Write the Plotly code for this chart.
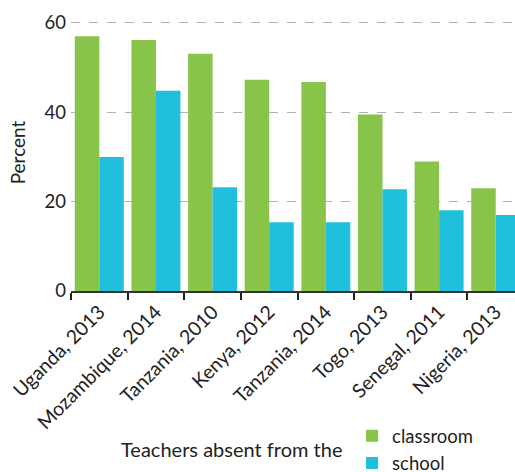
import plotly.graph_objects as go

categories = ["Uganda, 2013", "Mozambique, 2014", "Tanzania, 2010", "Kenya, 2012",
              "Tanzania, 2014", "Togo, 2013", "Senegal, 2011", "Nigeria, 2013"]
classroom = [57, 56.2, 53.1, 47.3, 46.8, 39.5, 29, 23]
school = [30, 44.8, 23.2, 15.4, 15.4, 22.8, 18.1, 17]

FONT = "Lato"
fig = go.Figure()
fig.add_trace(go.Bar(x=categories, y=classroom, name="classroom",
                     marker=dict(color="#89C44A", line=dict(width=0))))
fig.add_trace(go.Bar(x=categories, y=school, name="school",
                     marker=dict(color="#20C0DC", line=dict(width=0))))

fig.update_layout(
    width=515, height=472,
    margin=dict(l=71, r=0, t=14, b=181, autoexpand=False),
    paper_bgcolor="white", plot_bgcolor="white",
    barmode="group", bargap=0.135, bargroupgap=0,
    font=dict(family=FONT, size=19.5, color="#222"),
    showlegend=True,
    legend=dict(x=0.633, y=-0.456, xanchor="left", yanchor="top",
                orientation="v", font=dict(size=18.5), tracegroupgap=0,
                itemwidth=30, bgcolor="rgba(0,0,0,0)"),
    annotations=[dict(text="Teachers absent from the", xref="paper", yref="paper",
                      x=0.3615, y=-0.571, xanchor="center", yanchor="middle",
                      showarrow=False, font=dict(size=20))],
)
fig.update_xaxes(
    range=[-0.5, 7.34], showline=True, linecolor="#333", linewidth=2,
    ticks="outside", tickson="boundaries", ticklen=7, tickwidth=2, tickcolor="#222",
    tickangle=-45, tickfont=dict(size=19.5), showgrid=False,
)
fig.update_yaxes(
    range=[0, 62], tickvals=[0, 20, 40, 60], showgrid=True, gridcolor="#b0b0b0",
    griddash="dash", gridwidth=1, zeroline=False, showline=False,
    title=dict(text="Percent", font=dict(size=19), standoff=13),
    tickfont=dict(size=18.5), ticks="", ticklabelstandoff=4,
)
fig.write_html(
    "out.html",
    config={"displayModeBar": False},
    post_script="document.body.style.margin='0';document.body.style.overflow='hidden';"
                "document.documentElement.style.overflow='hidden';",
)
